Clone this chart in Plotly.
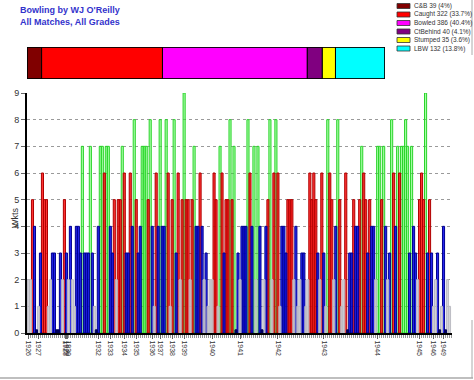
import plotly.graph_objects as go

# ---------------- data ----------------
# wickets taken per innings, in order
wkts = [
    2, 2, 5, 4, 0, 1, 3, 6, 5, 5, 1, 2, 3, 3, 0, 0, 3, 2, 5, 3,
    2, 4, 2, 1, 4, 4, 3, 7, 3, 3, 3, 7, 3, 1, 0, 4, 7, 7, 6, 7,
    7, 4, 3, 5, 2, 5, 5, 7, 6, 3, 3, 6, 4, 8, 5, 3, 4, 7, 7, 7,
    5, 8, 4, 1, 6, 4, 8, 4, 4, 8, 6, 1, 5, 8, 3, 6, 2, 5, 9, 5,
    5, 2, 5, 7, 4, 4, 6, 4, 2, 3, 1, 2, 2, 6, 5, 1, 7, 6, 3, 5,
    5, 8, 5, 7, 0, 3, 2, 4, 4, 4, 8, 6, 4, 7, 2, 7, 4, 0, 2, 4,
    5, 8, 2, 6, 8, 6, 1, 4, 4, 3, 5, 5, 5, 2, 4, 1, 2, 3, 3, 1,
    2, 6, 5, 6, 5, 3, 2, 6, 3, 1, 8, 6, 5, 2, 4, 8, 5, 1, 2, 6,
    0, 3, 3, 5, 4, 4, 5, 7, 6, 5, 3, 5, 4, 4, 2, 7, 7, 5, 7, 4,
    2, 3, 8, 6, 4, 7, 6, 7, 7, 8, 7, 3, 7, 4, 3, 2, 5, 6, 5, 9,
    3, 5, 3, 1, 2, 3, 0, 1, 4, 0, 2, 1,
]

# season labels and the innings index where each season starts
year_labels = ["1926", "1927", "1928", "1929", "1930", "1932", "1933", "1934",
               "1935", "1936", "1937", "1938", "1939", "1940", "1941", "1942",
               "1943", "1944", "1945", "1946", "1949"]
year_start = [0, 5, 18.3, 19, 19.7, 35, 41, 48, 54, 62, 66, 72, 78, 92, 106,
              125, 148, 175, 196, 203, 208]

# dismissal summary
dis_names = ["C&B", "Caught", "Bowled", "CtBehind", "Stumped", "LBW"]
dis_counts = [39, 322, 386, 40, 35, 132]
dis_pcts = ["4%", "33.7%", "40.4%", "4.1%", "3.6%", "13.8%"]
dis_colors = ["#800000", "#ff0000", "#ff00ff", "#800080", "#ffff00", "#00ffff"]

# ---------------- styling ----------------
W, H = 474, 380
ML, MR, MT, MB = 27, 22, 0, 47
PW, PH = W - ML - MR, H - MT - MB


def px_x(x):
    return (x - ML) / PW


def px_y(y):
    return 1 - (y - MT) / PH


groups = [
    ("green", lambda v: v >= 7, "rgba(60,255,60,0.45)", "#2ad42a"),
    ("red", lambda v: 5 <= v <= 6, "rgba(255,0,0,0.8)", "#b00000"),
    ("blue", lambda v: 3 <= v <= 4, "rgba(0,0,235,0.85)", "#000090"),
    ("grey", lambda v: 1 <= v <= 2, "rgba(195,195,202,0.75)", "#bcbcc4"),
    ("zero", lambda v: v == 0, "rgba(0,0,90,1)", "#000060"),
]

fig = go.Figure()

for name, cond, fill, line in groups:
    xs = [i for i, v in enumerate(wkts) if cond(v)]
    ys = [wkts[i] if wkts[i] > 0 else 0.12 for i in xs]
    fig.add_trace(go.Bar(
        x=xs, y=ys, width=1.05,
        marker=dict(color=fill, line=dict(color=line, width=1)),
        showlegend=False, hoverinfo="skip",
    ))

# top stacked summary bar
cum = 0
for n, c, col in zip(dis_names, dis_counts, dis_colors):
    fig.add_trace(go.Bar(
        x=[c], y=[0], base=[cum], orientation="h", width=1,
        marker=dict(color=col, line=dict(color="#000000", width=1)),
        xaxis="x2", yaxis="y2", showlegend=False, hoverinfo="skip",
    ))
    cum += c
total = cum

n_inn = len(wkts)
fig.update_layout(
    width=W, height=H,
    margin=dict(l=ML, r=MR, t=MT, b=MB, autoexpand=False),
    paper_bgcolor="white", plot_bgcolor="white",
    barmode="overlay",
    font=dict(family="Liberation Sans, Arial, sans-serif", color="#333333"),
    xaxis=dict(
        range=[-0.75, n_inn + 0.25], domain=[0, 1], automargin=False,
        tickmode="array", tickvals=year_start, ticktext=year_labels,
        tickangle=90, tickfont=dict(size=7, color="#333333"),
        showgrid=False, zeroline=False,
        showline=True, linecolor="#000000", linewidth=2,
        ticks="outside", ticklen=4, tickcolor="#666666",
        minor=dict(tickmode="linear", tick0=0, dtick=1, ticks="outside",
                   ticklen=3, tickcolor="#999999"),
    ),
    yaxis=dict(
        range=[0, 9], domain=[0, px_y(93)], automargin=False,
        tickmode="linear", tick0=0, dtick=1,
        tickfont=dict(size=9, color="#333333"),
        showgrid=True, gridcolor="#9a9a9a", griddash="3px,3px", gridwidth=1,
        zeroline=False,
        showline=True, linecolor="#000000", linewidth=2,
        ticks="outside", ticklen=4, tickcolor="#666666",
    ),
    xaxis2=dict(range=[0, total], domain=[0, px_x(385)], anchor="y2",
                visible=False, fixedrange=True, automargin=False),
    yaxis2=dict(range=[-0.5, 0.5], domain=[px_y(79), px_y(47)], anchor="x2",
                visible=False, fixedrange=True, automargin=False),
)

# outline around summary bar
fig.add_shape(type="rect", xref="x2", yref="y2", x0=0, x1=total, y0=-0.5, y1=0.5,
              line=dict(color="#000000", width=1.5))

# title
fig.add_annotation(text="<b>Bowling by WJ O'Reilly</b>", xref="paper", yref="paper",
                   x=px_x(18), y=px_y(10), xanchor="left", yanchor="middle",
                   showarrow=False, font=dict(size=9, color="#3333cc"))
fig.add_annotation(text="<b>All Matches, All Grades</b>", xref="paper", yref="paper",
                   x=px_x(18), y=px_y(22), xanchor="left", yanchor="middle",
                   showarrow=False, font=dict(size=9, color="#3333cc"))

# y-axis title
fig.add_annotation(text="Wkts", xref="paper", yref="paper", x=px_x(8), y=px_y(218),
                   textangle=-90, showarrow=False, font=dict(size=9, color="#333333"))

# legend (custom)
for k, (n, c, p, col) in enumerate(zip(dis_names, dis_counts, dis_pcts, dis_colors)):
    yc = 6 + k * 8.5
    fig.add_shape(type="rect", xref="paper", yref="paper",
                  x0=px_x(397), x1=px_x(410), y0=px_y(yc + 2.5), y1=px_y(yc - 2.5),
                  fillcolor=col, line=dict(color="#333333", width=0.8))
    fig.add_annotation(text=f"{n} {c} ({p})", xref="paper", yref="paper",
                       x=px_x(412), y=px_y(yc), xanchor="left", yanchor="middle",
                       showarrow=False, font=dict(size=6.5, color="#333333"))

# frame lines (right and bottom)
fig.add_shape(type="line", xref="paper", yref="paper",
              x0=px_x(472), x1=px_x(472), y0=px_y(0), y1=px_y(55),
              line=dict(color="#aaaaaa", width=1))
fig.add_shape(type="line", xref="paper", yref="paper",
              x0=px_x(472), x1=px_x(472), y0=px_y(320), y1=px_y(378),
              line=dict(color="#aaaaaa", width=1))
fig.add_shape(type="line", xref="paper", yref="paper",
              x0=px_x(0), x1=px_x(473), y0=px_y(378), y1=px_y(378),
              line=dict(color="#aaaaaa", width=1.5))

fig.write_html("out.html", config={"displayModeBar": False},
               post_script="document.body.style.margin='0px';")
